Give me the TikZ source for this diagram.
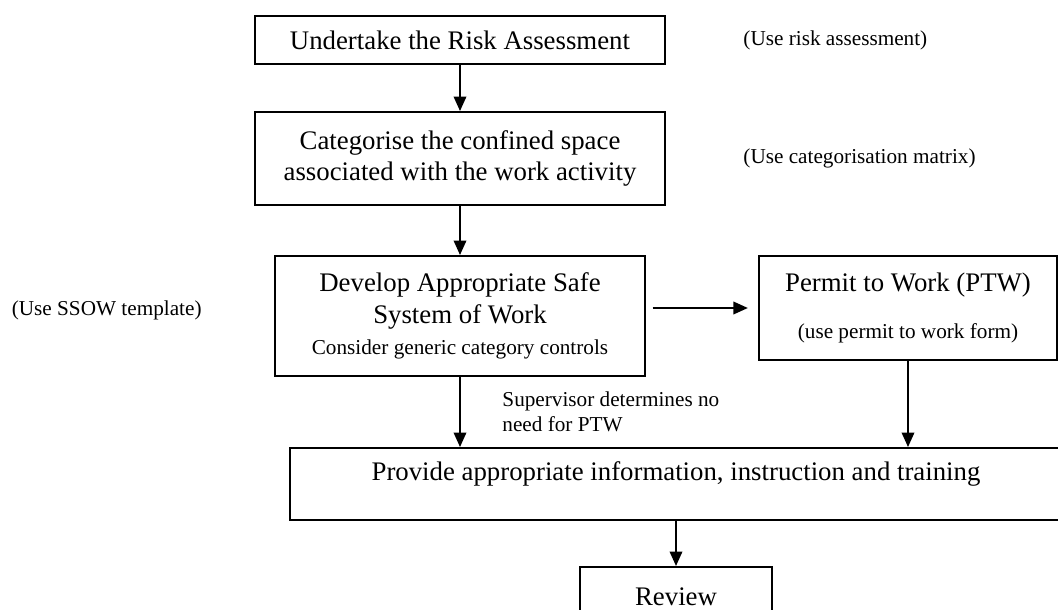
\documentclass[tikz,border=0pt]{standalone}
\usepackage{fontspec}
\setmainfont{Liberation Serif}
\usetikzlibrary{arrows.meta,positioning}

\newcommand{\notesize}{\fontsize{9.5}{11}\selectfont}
\tikzset{
  stepbox/.style={draw, line width=0.9pt, inner sep=0pt, align=center, font=\fontsize{12}{14}\selectfont},
  note/.style={inner sep=0pt, font=\notesize},
  flow/.style={line width=0.9pt, -{Triangle[length=6.5pt,width=5.6pt]}}
}

\begin{document}
\begin{tikzpicture}[x=0.4478pt, y=-0.4478pt]
    \useasboundingbox (0,0) rectangle (1058,609);
    \clip (0,0) rectangle (1058,609);
    % Main steps
    \node[stepbox, minimum width=183.6pt, minimum height=21.5pt] (assess) at (460,40) {Undertake the Risk Assessment};
    \node[stepbox, minimum width=183.6pt, minimum height=41.6pt] (categorise) at (460,158.5) {Categorise the confined space\\associated with the work activity};
    \node[stepbox, minimum width=165.7pt, minimum height=53.7pt] (develop) at (460,316) {Develop Appropriate Safe\\System of Work\\{\notesize Consider generic category controls}};
    \node[stepbox, minimum width=133.5pt, minimum height=46.6pt] (permit) at (908,308) {Permit to Work (PTW)\\[7pt]{\notesize (use permit to work form)}};
    \node[stepbox, minimum width=345.7pt, minimum height=32.2pt] (provide) at (676,484) {\raisebox{4.5pt}[\height][\depth]{Provide appropriate information, instruction and training}};
    \node[stepbox, minimum width=86pt, minimum height=26.4pt] (review) at (676,596.5) {Review};
    % Side notes
    \node[note, anchor=west] (riskNote) at (743,40) {(Use risk assessment)};
    \node[note, anchor=west] (matrixNote) at (743,158) {(Use categorisation matrix)};
    \node[note, anchor=east] (ssowNote) at (202,310) {(Use SSOW template)};
    \node[note, anchor=west, align=left] (noPtw) at (502,412) {Supervisor determines no\\need for PTW};
    % Connectors
    \draw[flow] (assess) -- (categorise);
    \draw[flow] (categorise) -- (develop);
    \draw[flow, shorten <=3pt, shorten >=4.5pt] (permit.west -| develop.east) -- (permit.west);
    \draw[flow] (develop) -- (develop |- provide.north);
    \draw[flow] (permit) -- (permit |- provide.north);
    \draw[flow] (provide) -- (review);
  \end{tikzpicture}
\end{document}
